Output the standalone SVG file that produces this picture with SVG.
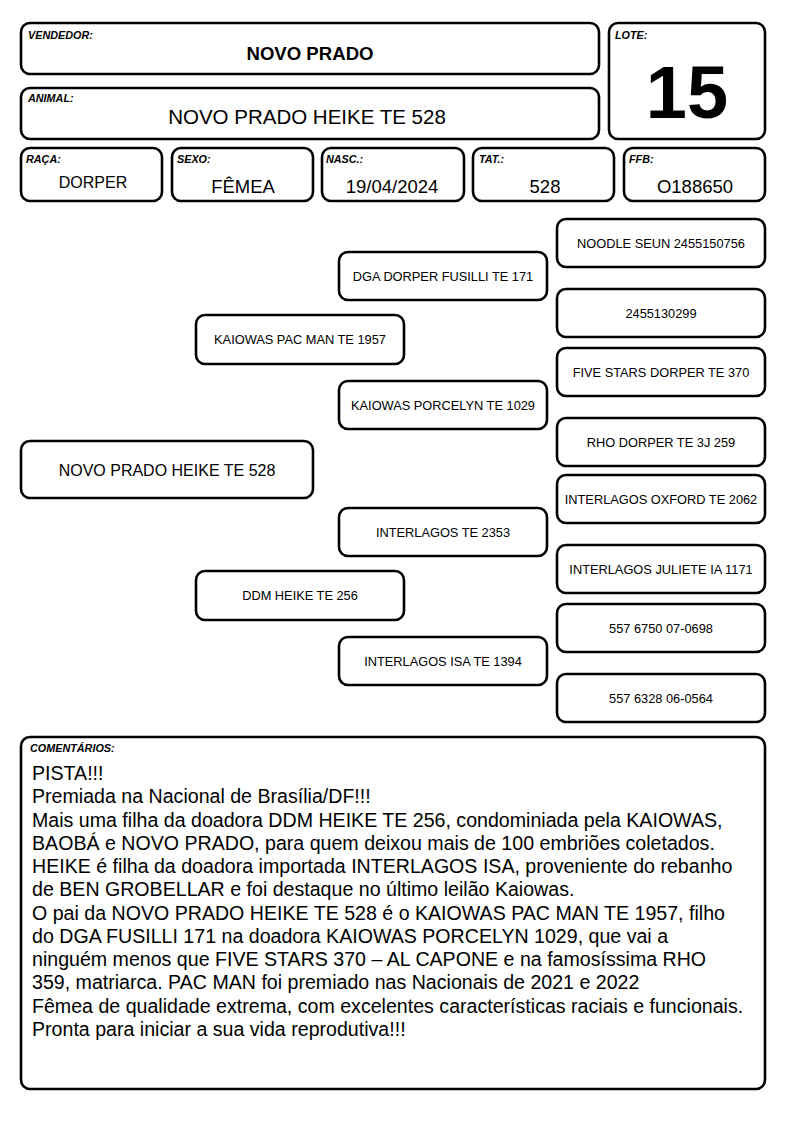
<svg xmlns="http://www.w3.org/2000/svg" width="794" height="1123" viewBox="0 0 794 1123">
<style>
.b{fill:#fff;stroke:#000;stroke-width:2.6}
text{font-family:"Liberation Sans",Arial,sans-serif;fill:#000}
.lb{font-size:10.8px;font-weight:bold;font-style:italic}
.v{font-size:18.5px;text-anchor:middle}
.p{font-size:12.8px;text-anchor:middle}
.c{font-size:19.6px}
</style>
<rect width="794" height="1123" fill="#fff"/>
<g id="vendedor">
<rect class="b" x="21" y="23" width="578" height="51" rx="9"/>
<text class="lb" x="28" y="38.5">VENDEDOR:</text>
<text x="310" y="60" font-size="18.6" font-weight="bold" text-anchor="middle">NOVO PRADO</text>
</g>
<g id="animal">
<rect class="b" x="21" y="88" width="578" height="51" rx="9"/>
<text class="lb" x="28" y="102">ANIMAL:</text>
<text x="307" y="123.5" font-size="20.5" text-anchor="middle">NOVO PRADO HEIKE TE 528</text>
</g>
<g id="lote">
<rect class="b" x="609" y="23" width="156" height="116" rx="9"/>
<text class="lb" x="615" y="38.5">LOTE:</text>
<text x="687" y="118" font-size="74" font-weight="bold" text-anchor="middle">15</text>
</g>
<g id="raca">
<rect class="b" x="21" y="148" width="141" height="53" rx="9"/>
<text class="lb" x="26" y="163">RAÇA:</text>
<text class="v" x="93" y="188" style="font-size:16px">DORPER</text>
</g>
<g id="sexo">
<rect class="b" x="172" y="148" width="141" height="53" rx="9"/>
<text class="lb" x="177" y="163">SEXO:</text>
<text class="v" x="243" y="193">FÊMEA</text>
</g>
<g id="nasc">
<rect class="b" x="322" y="148" width="142" height="53" rx="9"/>
<text class="lb" x="326" y="163">NASC.:</text>
<text class="v" x="392" y="193">19/04/2024</text>
</g>
<g id="tat">
<rect class="b" x="473" y="148" width="141" height="53" rx="9"/>
<text class="lb" x="479" y="163">TAT.:</text>
<text class="v" x="545" y="193">528</text>
</g>
<g id="ffb">
<rect class="b" x="624" y="148" width="141" height="53" rx="9"/>
<text class="lb" x="629" y="163">FFB:</text>
<text class="v" x="695" y="193">O188650</text>
</g>
<g id="connectors"></g>
<g id="animal-node">
<rect class="b" x="21" y="441" width="292" height="57" rx="9"/>
<text x="167" y="475.5" font-size="16" text-anchor="middle">NOVO PRADO HEIKE TE 528</text>
</g>
<g id="pai">
<rect class="b" x="196" y="315" width="208" height="49" rx="9"/>
<text class="p" x="300" y="344">KAIOWAS PAC MAN TE 1957</text>
</g>
<g id="mae">
<rect class="b" x="196" y="571" width="208" height="49" rx="9"/>
<text class="p" x="300" y="600">DDM HEIKE TE 256</text>
</g>
<g id="avo-pp">
<rect class="b" x="339" y="252" width="208" height="48" rx="9"/>
<text class="p" x="443" y="281">DGA DORPER FUSILLI TE 171</text>
</g>
<g id="avo-pm">
<rect class="b" x="339" y="381" width="208" height="48" rx="9"/>
<text class="p" x="443" y="410">KAIOWAS PORCELYN TE 1029</text>
</g>
<g id="avo-mp">
<rect class="b" x="339" y="508" width="208" height="48" rx="9"/>
<text class="p" x="443" y="537">INTERLAGOS TE 2353</text>
</g>
<g id="avo-mm">
<rect class="b" x="339" y="637" width="208" height="48" rx="9"/>
<text class="p" x="443" y="666">INTERLAGOS ISA TE 1394</text>
</g>
<g id="bis1">
<rect class="b" x="557" y="219" width="208" height="48" rx="9"/>
<text class="p" x="661" y="247.5">NOODLE SEUN 2455150756</text>
</g>
<g id="bis2">
<rect class="b" x="557" y="289" width="208" height="48" rx="9"/>
<text class="p" x="661" y="317.5">2455130299</text>
</g>
<g id="bis3">
<rect class="b" x="557" y="348" width="208" height="48" rx="9"/>
<text class="p" x="661" y="376.5">FIVE STARS DORPER TE 370</text>
</g>
<g id="bis4">
<rect class="b" x="557" y="418" width="208" height="48" rx="9"/>
<text class="p" x="661" y="446.5">RHO DORPER TE 3J 259</text>
</g>
<g id="bis5">
<rect class="b" x="557" y="475" width="208" height="48" rx="9"/>
<text class="p" x="661" y="503.5">INTERLAGOS OXFORD TE 2062</text>
</g>
<g id="bis6">
<rect class="b" x="557" y="545" width="208" height="48" rx="9"/>
<text class="p" x="661" y="573.5">INTERLAGOS JULIETE IA 1171</text>
</g>
<g id="bis7">
<rect class="b" x="557" y="604" width="208" height="48" rx="9"/>
<text class="p" x="661" y="632.5">557 6750 07-0698</text>
</g>
<g id="bis8">
<rect class="b" x="557" y="674" width="208" height="48" rx="9"/>
<text class="p" x="661" y="702.5">557 6328 06-0564</text>
</g>
<g id="comentarios">
<rect class="b" x="21" y="737" width="744" height="352" rx="9"/>
<text class="lb" x="30" y="752">COMENTÁRIOS:</text>
<text class="c" x="32" y="780">PISTA!!!</text>
<text class="c" x="32" y="803.3">Premiada na Nacional de Brasília/DF!!!</text>
<text class="c" x="32" y="826.5">Mais uma filha da doadora DDM HEIKE TE 256, condominiada pela KAIOWAS,</text>
<text class="c" x="32" y="849.8">BAOBÁ e NOVO PRADO, para quem deixou mais de 100 embriões coletados.</text>
<text class="c" x="32" y="873.1">HEIKE é filha da doadora importada INTERLAGOS ISA, proveniente do rebanho</text>
<text class="c" x="32" y="896.4">de BEN GROBELLAR e foi destaque no último leilão Kaiowas.</text>
<text class="c" x="32" y="919.6">O pai da NOVO PRADO HEIKE TE 528 é o KAIOWAS PAC MAN TE 1957, filho</text>
<text class="c" x="32" y="942.9">do DGA FUSILLI 171 na doadora KAIOWAS PORCELYN 1029, que vai a</text>
<text class="c" x="32" y="966.2">ninguém menos que FIVE STARS 370 – AL CAPONE e na famosíssima RHO</text>
<text class="c" x="32" y="989.4">359, matriarca. PAC MAN foi premiado nas Nacionais de 2021 e 2022</text>
<text class="c" x="32" y="1012.7">Fêmea de qualidade extrema, com excelentes características raciais e funcionais.</text>
<text class="c" x="32" y="1036">Pronta para iniciar a sua vida reprodutiva!!!</text>
</g>
</svg>
